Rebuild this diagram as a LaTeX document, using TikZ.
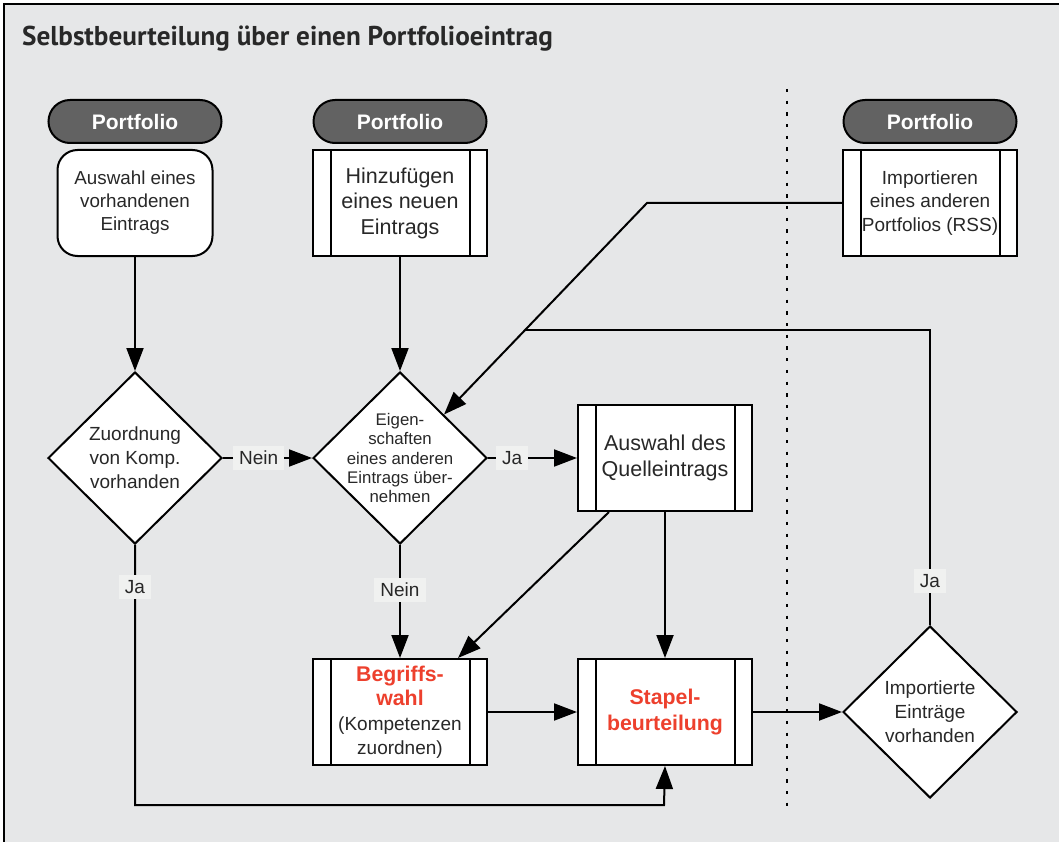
\documentclass[tikz,border=0pt]{standalone}
\usepackage{fontspec}
\setmainfont{Liberation Sans}
\newfontfamily\titlefont{PT Sans}
\usetikzlibrary{shapes.geometric,arrows.meta,calc}

\definecolor{bgc}{RGB}{230,231,232}
\definecolor{lblc}{RGB}{240,241,240}
\definecolor{pillc}{RGB}{98,98,98}
\definecolor{txt}{RGB}{40,40,40}
\definecolor{hl}{RGB}{237,64,45}

\newcommand{\fs}[2]{\fontsize{#1}{#2}\selectfont}
\newcommand{\hlword}[1]{{\fs{21.3}{25.5}\color{hl}\bfseries #1}}

\tikzset{
  every node/.style={text=txt},
  shp/.style={draw=black, line width=2pt, fill=white, align=center},
  pill/.style={shp, fill=pillc, rounded corners=21.5pt, minimum width=173pt,
    minimum height=43pt, inner sep=0pt, text=white, font=\fs{21}{24}\bfseries},
  rbox/.style={shp, rounded corners=20pt, minimum width=155pt, minimum height=106pt, inner sep=0pt},
  proc/.style={shp, minimum width=174pt, minimum height=106pt, inner sep=0pt,
    path picture={\draw[line width=2pt]
      ([xshift=17.5pt]path picture bounding box.north west) -- ([xshift=17.5pt]path picture bounding box.south west)
      ([xshift=-17.5pt]path picture bounding box.north east) -- ([xshift=-17.5pt]path picture bounding box.south east);}},
  dia/.style={shp, diamond, aspect=1, minimum width=174pt, minimum height=172pt, inner sep=0pt},
  arr/.style={line width=2pt, -{Triangle[length=23pt,width=17pt]}},
  conn/.style={line width=2pt},
  lbl/.style={fill=lblc, font=\fs{19}{22}, inner xsep=6pt, inner ysep=0pt, minimum height=24pt},
  sepline/.style={line width=1.6pt, dash pattern=on 3.3pt off 8.4pt},
}

\begin{document}
\begin{tikzpicture}[x=1pt,y=-1pt]
  \useasboundingbox (0,0) rectangle (1059,842);
  % panel background with its top and left frame lines
  \fill[white] (0,0) rectangle (1059,842);
  \fill[bgc] (4,4) rectangle (1059,842);
  \draw[line width=1.5pt] (4,842) -- (4,4) -- (1059,4);

  \node[anchor=base west, font=\titlefont\fs{27.2}{30}\bfseries, inner sep=0pt] (title) at (22,46)
    {Selbstbeurteilung über einen Portfolioeintrag};

  % separator between local and imported entries
  \draw[sepline] (787,89) -- (787,812);

  % headers
  \node[pill] (p1) at (135,121.5) {Portfolio};
  \node[pill] (p2) at (400,121.5) {Portfolio};
  \node[pill] (p3) at (930,121.5) {Portfolio};

  % sources
  \node[rbox, font=\fs{18.8}{23}] (b1) at (135,203) {Auswahl eines\\vorhandenen\\Eintrags};
  \node[proc, font=\fs{21.5}{25.5}] (b2) at (400,203) {Hinzufügen\\eines neuen\\Eintrags};
  \node[proc, font=\fs{19}{23.5}] (b3) at (930,203) {Importieren\\eines anderen\\Portfolios (RSS)};

  % decisions
  \node[dia, label={[font=\fs{19}{24}, align=center]center:{Zuordnung\\von Komp.\\vorhanden}}] (d1) at (135,458) {};
  \node[dia, label={[font=\fs{16.8}{19.2}, align=center]center:{Eigen-\\schaften\\eines anderen\\Eintrags über-\\nehmen}}] (d2) at (400,458) {};
  \node[dia, label={[font=\fs{19}{24}, align=center]center:{Importierte\\Einträge\\vorhanden}}] (d3) at (930,712) {};

  % processes
  \node[proc, font=\fs{21.5}{26.5}] (q) at (665,458) {Auswahl des\\Quelleintrags};
  \node[proc, font=\fs{19}{24.5}] (bw) at (400,712)
    {\hlword{Begriffs-}\\\hlword{wahl}\\(Kompetenzen\\zuordnen)};
  \node[proc, font=\fs{21.3}{26}\bfseries, text=hl] (st) at (665,712) {Stapel-\\beurteilung};

  % helper points
  \coordinate (k1) at (647,203);
  \coordinate (bot) at (664,805);
  \coordinate (j) at ($(k1)!0.6!(d2.north east)$);

  % connectors
  \draw[arr] (b1.south) -- (d1.north);
  \draw[arr] (b2.south) -- (d2.north);
  \draw[arr] (d1.east) -- node[lbl,pos=0.4] {Nein} (d2.west);
  \draw[arr] (d2.east) -- node[lbl,pos=0.27] {Ja} (q.west);
  \draw[arr] (d2.south) -- node[lbl,pos=0.4] {Nein} (bw.north);
  \draw[arr] ([xshift=32pt]q.south west) -- ([xshift=-30pt]bw.north east);
  \draw[arr] (q.south) -- (st.north);
  \draw[arr] (bw.east) -- (st.west);
  \draw[arr] (st.east) -- (d3.west);
  \draw[arr] (d1.south) -- node[lbl,pos=0.16] {Ja} (d1.south |- bot) -- (bot) -- (st.south);
  \draw[arr] (b3.west) -- (k1) -- (d2.north east);
  \draw[conn] (d3.north) -- node[lbl,pos=0.15] {Ja} (d3.north |- j) -- (j);
\end{tikzpicture}
\end{document}
